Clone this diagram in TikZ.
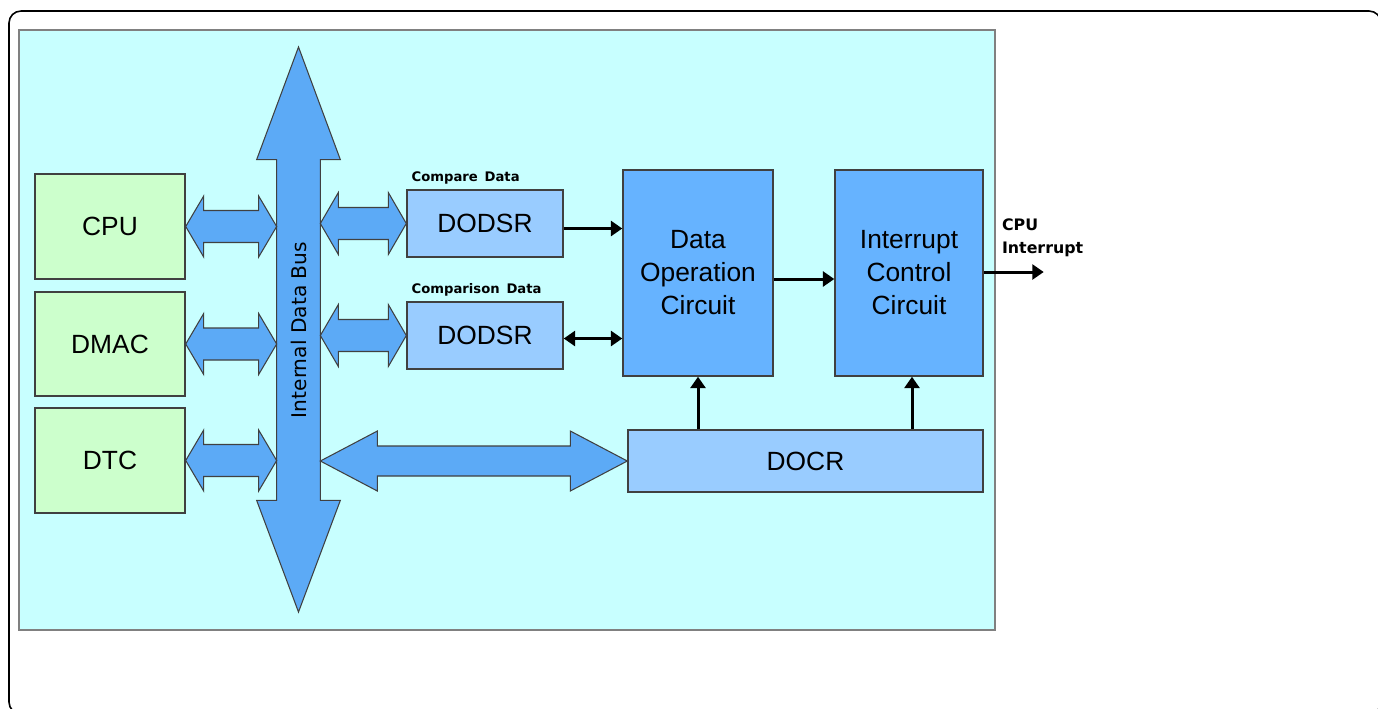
\documentclass[tikz,border=0pt]{standalone}
\usepackage{fontspec}
\setmainfont{Liberation Sans}
\newfontfamily\tagfont{DejaVu Sans}
\usetikzlibrary{arrows.meta,positioning,calc}

\definecolor{panelcyan}{HTML}{C8FFFF}
\definecolor{unitgreen}{HTML}{CCFFCC}
\definecolor{reglight}{HTML}{99CCFF}
\definecolor{circblue}{HTML}{66B3FF}
\definecolor{busblue}{HTML}{5CAAF6}
\definecolor{edgegray}{HTML}{404040}

\newlength\pxu
\setlength\pxu{0.02cm}

\tikzset{
  unitbox/.style={draw=edgegray, line width=0.8pt, fill=unitgreen, inner sep=0pt,
    minimum width=150*\pxu, minimum height=105*\pxu, font=\fontsize{15}{19}\selectfont},
  regbox/.style={draw=edgegray, line width=0.8pt, fill=reglight, inner sep=0pt,
    font=\fontsize{15}{19}\selectfont},
  circbox/.style={draw=edgegray, line width=0.8pt, fill=circblue, inner sep=0pt, align=center,
    minimum width=150*\pxu, minimum height=206*\pxu, font=\fontsize{15}{18.8}\selectfont},
  fatarrow/.style={draw=edgegray, line width=0.6pt, fill=busblue, line join=miter},
  sig/.style={line width=1.7pt, -{Triangle[length=6.5pt,width=8.5pt]}},
  sigboth/.style={line width=1.7pt, {Triangle[length=6.5pt,width=8.5pt]}-{Triangle[length=6.5pt,width=8.5pt]}},
  tag/.style={font=\tagfont\bfseries\fontsize{7.5}{9}\selectfont, inner sep=0pt}
}

% wide two-way arrow: from, to, shaft half, head half, head length
\newcommand{\wideconn}[5]{%
  \draw[fatarrow] (#1) -- ($(#1)+(#5,-#4)$) -- ($(#1)+(#5,-#3)$) -- ($(#2)+(-#5,-#3)$)
    -- ($(#2)+(-#5,-#4)$) -- (#2) -- ($(#2)+(-#5,#4)$) -- ($(#2)+(-#5,#3)$)
    -- ($(#1)+(#5,#3)$) -- ($(#1)+(#5,#4)$) -- cycle;}

\begin{document}
\begin{tikzpicture}[x=0.02cm, y=-0.02cm]
  \useasboundingbox (0,0) rectangle (1378,708);
  \draw[line width=0.9pt, rounded corners=12*\pxu] (9,11) rectangle (1381,714);
  \draw[draw=gray, fill=panelcyan, line width=0.6pt] (19,30) rectangle (995,630);

  % units on the left
  \node[unitbox] (cpu) at (110,226.5) {CPU};
  \node[unitbox, minimum height=104*\pxu] (dmac) at (110,344) {DMAC};
  \node[unitbox] (dtc) at (110,460.5) {DTC};

  % registers and circuits
  \node[regbox, minimum width=156*\pxu, minimum height=67*\pxu] (dodsrA) at (485,223.5) {DODSR};
  \node[regbox, minimum width=156*\pxu, minimum height=67*\pxu] (dodsrB) at (485,335.5) {DODSR};
  \node[circbox] (dataop) at (698,273) {Data\\Operation\\Circuit};
  \node[circbox, minimum width=148*\pxu] (intctl) at (909,273) {Interrupt\\Control\\Circuit};
  \node[regbox, minimum width=355*\pxu, minimum height=62*\pxu] (docr) at (805.5,461) {DOCR};

  \node[tag, anchor=south west] at ($(dodsrA.north west)+(5,-5)$) {Compare\, Data};
  \node[tag, anchor=south west] at ($(dodsrB.north west)+(5,-5)$) {Comparison\, Data};

  % internal data bus
  \node[minimum width=43*\pxu, minimum height=340*\pxu, inner sep=0pt] (bus) at (298.5,330) {};
  \coordinate (bustop) at (298.5,47);
  \coordinate (busbot) at (298.5,612);
  \draw[fatarrow] (bus.north west) -- ++(-20,0) -- (bustop) -- ($(bus.north east)+(20,0)$)
    -- (bus.north east) -- (bus.south east) -- ++(20,0) -- (busbot)
    -- ($(bus.south west)+(-20,0)$) -- (bus.south west) -- cycle;
  \node[rotate=90, font=\tagfont\fontsize{11.5}{13}\selectfont] at (bus.center) {Internal Data Bus};

  \wideconn{cpu.east}{cpu.east -| bus.west}{16}{30.5}{18}
  \wideconn{dmac.east}{dmac.east -| bus.west}{16}{30.5}{18}
  \wideconn{dtc.east}{dtc.east -| bus.west}{16}{30.5}{18}
  \wideconn{dodsrA.west -| bus.east}{dodsrA.west}{16}{31}{18}
  \wideconn{dodsrB.west -| bus.east}{dodsrB.west}{16}{31}{18}
  \wideconn{docr.west -| bus.east}{docr.west}{15}{30}{57}

  % signal lines
  \draw[sig] ($(dodsrA.east)+(0,5)$) -- ($(dodsrA.east -| dataop.west)+(0,5)$);
  \draw[sigboth] ($(dodsrB.east)+(0,3)$) -- ($(dodsrB.east -| dataop.west)+(0,3)$);
  \draw[sig] ($(dataop.east)+(0,6)$) -- ($(intctl.west)+(0,6)$);
  \coordinate (cpuint) at ($(intctl.east)+(60,-1)$);
  \draw[sig] ($(intctl.east)+(0,-1)$) -- (cpuint);
  \node[anchor=south west, align=left, inner sep=0pt,
    font=\tagfont\bfseries\fontsize{9}{13}\selectfont] at ($(cpuint)+(-42,-15)$) {CPU\\Interrupt};
  \draw[sig] (docr.north -| dataop.south) -- (dataop.south);
  \draw[sig] ($(docr.north -| intctl.south)+(3,0)$) -- ($(intctl.south)+(3,0)$);
\end{tikzpicture}
\end{document}
